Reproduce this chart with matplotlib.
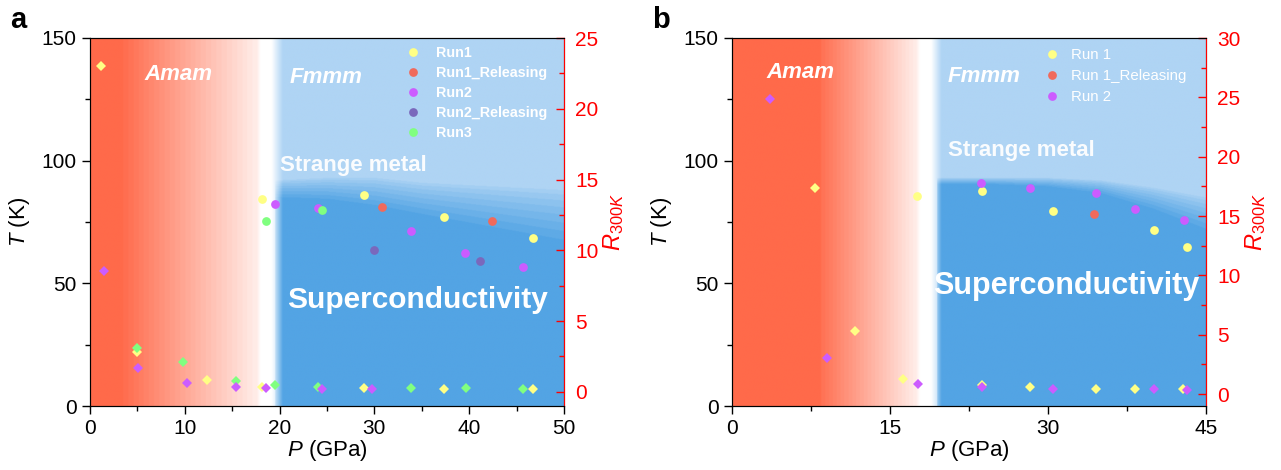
import numpy as np
import matplotlib
matplotlib.use("Agg")
import matplotlib.pyplot as plt
from matplotlib.ticker import MultipleLocator
from matplotlib.lines import Line2D
from matplotlib.colors import to_rgb

plt.rcParams['font.family'] = ['Liberation Sans', 'DejaVu Sans']
plt.rcParams['mathtext.fontset'] = 'custom'
plt.rcParams['mathtext.rm'] = 'Liberation Sans'
plt.rcParams['mathtext.it'] = 'Liberation Sans:italic'
plt.rcParams['mathtext.bf'] = 'Liberation Sans:bold'

# ---------------- colours ----------------
C_Y = '#FFFF85'
C_R = '#F06A5C'
C_P = '#CC5CFF'
C_DP = '#7A68BC'
C_G = '#80FF80'

# ---------------- panel a data ----------------
# Tc circles (left axis)
a_run1_P = [18.1, 28.9, 37.3, 46.7]
a_run1_T = [84.4, 86.1, 77.2, 68.6]
a_run1rel_P = [30.8, 42.4]
a_run1rel_T = [81.0, 75.4]
a_run2_P = [19.5, 24.0, 33.9, 39.6, 45.7]
a_run2_T = [82.3, 80.6, 71.5, 62.5, 56.7]
a_run2rel_P = [30.0, 41.1]
a_run2rel_T = [63.5, 59.2]
a_run3_P = [18.6, 24.5]
a_run3_T = [75.4, 79.9]
# R300K diamonds (right axis)
a_r1_P = [1.2, 5.0, 12.3, 18.1, 28.9, 37.3, 46.7]
a_r1_R = [23.0, 2.83, 0.83, 0.36, 0.25, 0.20, 0.18]
a_r3_P = [5.0, 9.8, 15.4, 19.5, 24.0, 33.9, 39.7, 45.7]
a_r3_R = [3.12, 2.08, 0.74, 0.46, 0.36, 0.25, 0.25, 0.22]
a_r2_P = [1.5, 5.1, 10.2, 15.4, 18.6, 24.5, 29.7]
a_r2_R = [8.54, 1.70, 0.60, 0.34, 0.27, 0.20, 0.22]
a_labels = ['Run1', 'Run1_Releasing', 'Run2', 'Run2_Releasing', 'Run3']

# ---------------- panel b data ----------------
b_run1_P = [17.6, 23.7, 30.5, 40.1, 43.2]
b_run1_T = [85.8, 87.7, 79.6, 71.8, 65.0]
b_run1rel_P = [34.4]
b_run1rel_T = [78.4]
b_run2_P = [23.6, 28.3, 34.6, 38.3, 42.9]
b_run2_T = [90.8, 88.7, 87.0, 80.2, 75.7]
b_r1_P = [7.9, 11.7, 16.2, 23.7, 28.3, 34.6, 38.3, 42.8]
b_r1_R = [17.4, 5.36, 1.31, 0.73, 0.56, 0.47, 0.45, 0.42]
b_r2_P = [3.6, 9.0, 17.7, 23.7, 30.5, 40.1, 43.2]
b_r2_R = [24.9, 3.08, 0.84, 0.56, 0.47, 0.42, 0.36]
b_labels = ['Run 1', 'Run 1_Releasing', 'Run 2']

# ---------------- phase background knots ----------------
a_bnd_P = [19.5, 25, 30, 35, 40, 45, 50]
a_bnd_Tu = [92, 93, 93, 91, 90, 89, 88]
a_bnd_Tl = [84, 83, 80, 76, 72, 68, 64]
b_bnd_P = [19.5, 25, 30, 35, 40, 45]
b_bnd_Tu = [93, 93, 93, 92, 89, 85]
b_bnd_Tl = [90, 90, 89, 86, 79, 70]

RED = np.array(to_rgb('#FF6A4A'))
WHITE = np.array([1.0, 1.0, 1.0])
LIGHT = np.array(to_rgb('#AFD4F4'))
DARK = np.array(to_rgb('#53A4E4'))


def background(xmax, red_solid, red_end, blue_start, blue_full, bP, bTu, bTl,
               fade_top=1.0, fade_low=0.12):
    nx, ny = 1000, 600
    P = np.linspace(0, xmax, nx)
    T = np.linspace(0, 150, ny)
    PP, TT = np.meshgrid(P, T)
    # red fade
    lin = np.clip((red_end - PP) / (red_end - red_solid), 0, 1)
    fr = fade_low + (fade_top - fade_low) * lin
    fr = np.round(fr * 30) / 30
    fr = np.where(PP < red_solid, 1.0, fr)
    red_img = WHITE * (1 - fr[..., None]) + RED * fr[..., None]
    # blue
    Tu = np.interp(PP, bP, bTu)
    Tl = np.interp(PP, bP, bTl)
    s = np.clip((Tu - TT) / (Tu - Tl), 0, 1) ** 0.8
    s = np.ceil(s * 8) / 8
    s = np.where(PP < bP[0], 0.0, s)
    blue_img = LIGHT * (1 - s[..., None]) + DARK * s[..., None]
    fb = np.clip((PP - blue_start) / (blue_full - blue_start), 0, 1)
    blue_img = WHITE * (1 - fb[..., None]) + blue_img * fb[..., None]
    # short soft fade from pale pink to white
    fw = np.clip((PP - red_end) / 0.35, 0, 1)
    pale = WHITE * (1 - fade_low) + RED * fade_low
    white_img = pale * (1 - fw[..., None]) + WHITE * fw[..., None]
    img = np.where((PP < red_end)[..., None], red_img, blue_img)
    img = np.where(((PP >= red_end) & (PP < blue_start))[..., None], white_img, img)
    return img


def style_axes(ax, ax2, xmax, xmaj, rmax):
    ax.set_xlim(0, xmax)
    ax.set_ylim(0, 150)
    ax2.set_ylim(-1, rmax)
    ax.xaxis.set_major_locator(MultipleLocator(xmaj))
    ax.xaxis.set_minor_locator(MultipleLocator(xmaj / 2))
    ax.yaxis.set_major_locator(MultipleLocator(50))
    ax.yaxis.set_minor_locator(MultipleLocator(25))
    ax2.yaxis.set_major_locator(MultipleLocator(5))
    ax2.yaxis.set_minor_locator(MultipleLocator(2.5))
    ax.tick_params(axis='both', which='major', direction='out', length=6, width=1, labelsize=15)
    ax.tick_params(axis='both', which='minor', direction='out', length=3.5, width=1)
    ax2.tick_params(axis='y', which='major', direction='in', length=6, width=1,
                    colors='red', labelsize=15, pad=8)
    ax2.tick_params(axis='y', which='minor', direction='in', length=3.5, width=1, colors='red')
    ax2.spines['right'].set_color('red')
    for sp in ['left', 'bottom', 'top']:
        ax.spines[sp].set_color('#222222')
    ax.set_xlabel(r'$P$ (GPa)', fontsize=16, labelpad=0)
    ax.set_ylabel(r'$T$ (K)', fontsize=16)
    ax.yaxis.set_label_coords(-0.122, 0.5)
    ax2.set_ylabel(r'$R_{300K}$', fontsize=17, color='red', labelpad=2)


fig = plt.figure(figsize=(12.81, 4.70), dpi=100)
axa = fig.add_axes([90 / 1281, 1 - 406 / 470, 474 / 1281, 368 / 470])
axb = fig.add_axes([732 / 1281, 1 - 406 / 470, 474 / 1281, 368 / 470])

ms_c = 6.3
ms_d = 4.6

# ---------- panel a ----------
imga = background(50, 3.2, 17.6, 19.1, 20.3, a_bnd_P, a_bnd_Tu, a_bnd_Tl)
axa.imshow(imga, extent=(0, 50, 0, 150), origin='lower', aspect='auto',
           interpolation='bilinear', zorder=0)
axa2 = axa.twinx()
for P_, T_, c in [(a_run1_P, a_run1_T, C_Y), (a_run1rel_P, a_run1rel_T, C_R),
                  (a_run2_P, a_run2_T, C_P), (a_run2rel_P, a_run2rel_T, C_DP),
                  (a_run3_P, a_run3_T, C_G)]:
    axa.plot(P_, T_, 'o', color=c, ms=ms_c, mew=0, zorder=3)
for P_, R_, c in [(a_r1_P, a_r1_R, C_Y), (a_r3_P, a_r3_R, C_G), (a_r2_P, a_r2_R, C_P)]:
    axa2.plot(P_, R_, 'D', color=c, ms=ms_d, mew=0, zorder=3)
style_axes(axa, axa2, 50, 10, 25)
axa.text(9.3, 135, 'Amam', color='white', fontsize=16, fontweight='bold',
         fontstyle='italic', ha='center', va='center')
axa.text(24.9, 133.7, 'Fmmm', color='white', fontsize=16, fontweight='bold',
         fontstyle='italic', ha='center', va='center')
axa.text(27.8, 98.2, 'Strange metal', color='white', fontsize=16, fontweight='bold',
         ha='center', va='center', alpha=0.95)
axa.text(34.5, 43.2, 'Superconductivity', color='white', fontsize=21.5, fontweight='bold',
         ha='center', va='center')
ha = [Line2D([], [], marker='o', ls='none', color=c, ms=ms_c, mew=0)
      for c in [C_Y, C_R, C_P, C_DP, C_G]]
leg = axa2.legend(ha, a_labels, loc='upper left', bbox_to_anchor=(0.667, 0.977),
                  frameon=False, handlelength=1.0, handletextpad=1.1,
                  labelspacing=0.42, borderpad=0, borderaxespad=0,
                  prop={'weight': 'bold', 'size': 10.3})
for t in leg.get_texts():
    t.set_color('white')

# ---------- panel b ----------
imgb = background(45, 8.4, 17.5, 18.9, 19.9, b_bnd_P, b_bnd_Tu, b_bnd_Tl,
                  fade_top=0.96, fade_low=0.12)
axb.imshow(imgb, extent=(0, 45, 0, 150), origin='lower', aspect='auto',
           interpolation='bilinear', zorder=0)
axb2 = axb.twinx()
for P_, T_, c in [(b_run1_P, b_run1_T, C_Y), (b_run1rel_P, b_run1rel_T, C_R),
                  (b_run2_P, b_run2_T, C_P)]:
    axb.plot(P_, T_, 'o', color=c, ms=ms_c, mew=0, zorder=3)
for P_, R_, c in [(b_r1_P, b_r1_R, C_Y), (b_r2_P, b_r2_R, C_P)]:
    axb2.plot(P_, R_, 'D', color=c, ms=ms_d, mew=0, zorder=3)
style_axes(axb, axb2, 45, 15, 30)
axb.text(6.5, 136, 'Amam', color='white', fontsize=16, fontweight='bold',
         fontstyle='italic', ha='center', va='center')
axb.text(23.9, 134.5, 'Fmmm', color='white', fontsize=16, fontweight='bold',
         fontstyle='italic', ha='center', va='center')
axb.text(27.5, 104, 'Strange metal', color='white', fontsize=16, fontweight='bold',
         ha='center', va='center', alpha=0.95)
axb.text(31.7, 49, 'Superconductivity', color='white', fontsize=22, fontweight='bold',
         ha='center', va='center')
hb = [Line2D([], [], marker='o', ls='none', color=c, ms=ms_c, mew=0)
      for c in [C_Y, C_R, C_P]]
legb = axb2.legend(hb, b_labels, loc='upper left', bbox_to_anchor=(0.660, 0.972),
                   frameon=False, handlelength=1.0, handletextpad=0.75,
                   labelspacing=0.45, borderpad=0, borderaxespad=0,
                   prop={'size': 10.8})
for t in legb.get_texts():
    t.set_color('white')

fig.text(10 / 1281, 1 - 20 / 470, 'a', fontsize=21, fontweight='bold', va='center')
fig.text(652 / 1281, 1 - 20 / 470, 'b', fontsize=21, fontweight='bold', va='center')

fig.savefig('out.png', dpi=100)
